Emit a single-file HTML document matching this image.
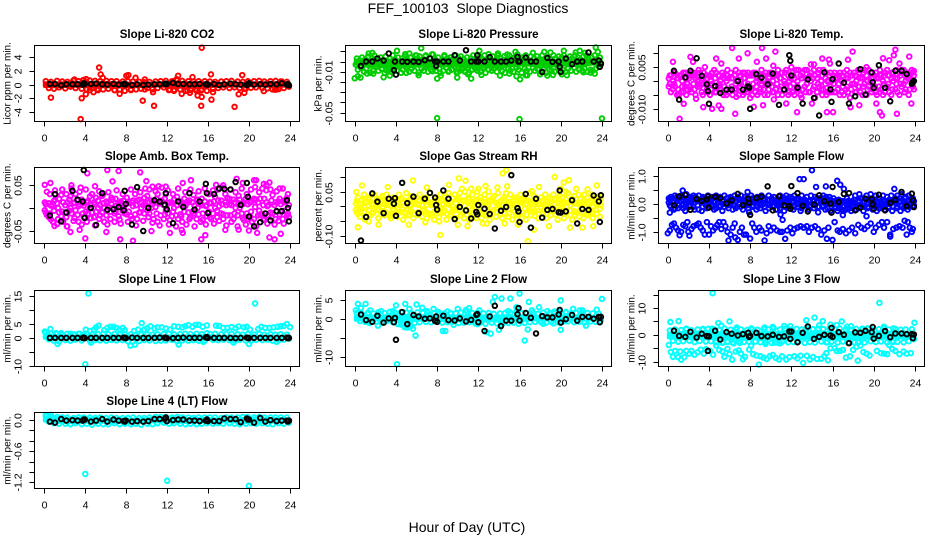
<!DOCTYPE html>
<html lang="en">
<head>
<meta charset="utf-8">
<title>FEF_100103 Slope Diagnostics</title>
<style>
html,body{margin:0;padding:0;background:#fff;}
svg{display:block;font-family:"Liberation Sans",sans-serif;}
</style>
</head>
<body>
<svg id="chart" width="936" height="540" viewBox="0 0 936 540" xmlns="http://www.w3.org/2000/svg">
<rect x="0" y="0" width="936" height="540" fill="#fff"/>
<text x="468" y="13" text-anchor="middle" font-size="14" xml:space="preserve">FEF_100103  Slope Diagnostics</text>
<text x="467" y="532" text-anchor="middle" font-size="14">Hour of Day (UTC)</text>
</svg>
<script>
const xTicks=[0,4,8,12,16,20,24];
const hours=[
0.1,0.2,0.3,0.5,0.6,0.7,0.9,1.0,1.1,1.3,1.4,1.5,1.7,1.8,1.9,
2.1,2.2,2.3,2.5,2.6,2.7,2.9,3.0,3.1,3.3,3.4,3.5,3.7,3.8,3.9,
4.1,4.2,4.3,4.5,4.6,4.7,4.9,5.0,5.1,5.3,5.4,5.5,5.7,5.8,5.9,
6.1,6.2,6.3,6.5,6.6,6.7,6.9,7.0,7.1,7.3,7.4,7.5,7.7,7.8,7.9,
8.1,8.2,8.3,8.5,8.6,8.7,8.9,9.0,9.1,9.3,9.4,9.5,9.7,9.8,9.9,
10.1,10.2,10.3,10.5,10.6,10.7,10.9,11.0,11.1,11.3,11.4,11.5,11.7,11.8,11.9,
12.1,12.2,12.3,12.5,12.6,12.7,12.9,13.0,13.1,13.3,13.4,13.5,13.7,13.8,13.9,
14.1,14.2,14.3,14.5,14.6,14.7,14.9,15.0,15.1,15.3,15.4,15.5,15.7,15.8,15.9,
16.1,16.2,16.3,16.5,16.6,16.7,16.9,17.0,17.1,17.3,17.4,17.5,17.7,17.8,17.9,
18.1,18.2,18.3,18.5,18.6,18.7,18.9,19.0,19.1,19.3,19.4,19.5,19.7,19.8,19.9,
20.1,20.2,20.3,20.5,20.6,20.7,20.9,21.0,21.1,21.3,21.4,21.5,21.7,21.8,21.9,
22.1,22.2,22.3,22.5,22.6,22.7,22.9,23.0,23.1,23.3,23.4,23.5,23.7,23.8,23.9];
const fringeHours=[
0.2,0.5,0.7,1.0,1.3,1.5,1.8,2.1,2.3,2.6,2.9,3.1,3.4,3.7,3.9,
4.2,4.5,4.7,5.0,5.3,5.5,5.8,6.1,6.3,6.6,6.9,7.1,7.4,7.7,7.9,
8.2,8.5,8.7,9.0,9.3,9.5,9.8,10.1,10.3,10.6,10.9,11.1,11.4,11.7,11.9,
12.2,12.5,12.7,13.0,13.3,13.5,13.8,14.1,14.3,14.6,14.9,15.1,15.4,15.7,15.9,
16.2,16.5,16.7,17.0,17.3,17.5,17.8,18.1,18.3,18.6,18.9,19.1,19.4,19.7,19.9,
20.2,20.5,20.7,21.0,21.3,21.5,21.8,22.1,22.3,22.6,22.9,23.1,23.4,23.7,23.9];
const blackHours=[0.6,1.1,1.7,2.2,2.8,3.3,3.8,3.9,4.0,4.6,5.1,5.7,6.2,6.8,7.3,7.8,7.9,8.0,8.6,9.1,9.7,10.2,10.8,11.3,11.8,11.9,12.0,12.6,13.1,13.6,14.2,14.7,15.2,15.8,15.9,16.0,16.6,17.1,17.6,18.2,18.7,19.2,19.8,19.9,20.0,20.5,21.1,21.6,22.1,22.7,23.2,23.7,23.8,23.9];
const bandHours=[0.1,1,2,3,4,5,6,7,8,9,10,11,12,13,14,15,16,17,18,19,20,21,22,23,23.9];

const co2Black=[.1,.1,-.1,.05,.05,.05,0,.2,.1,.1,.15,.05,0,.1,0,.1,.05,.05,-.05,.05,-.05,0,.05,.05,.1,.15,.1,.25,.1,.1,.05,.05,.1,.05,.1,0,.1,-.05,.05,.15,.05,0,-.05,.05,.2,0,.05,0,.1,.05,.2,0,.1,-.1];
const co2BandHigh=[.2,.15,.2,.25,.15,.2,.25,.2,.15,.1,.1,.15,.2,.2,.2,.2,.15,.1,.15,.15,.15,.2,.2,.15,.15];
const co2BandLow=[-.2,-.25,-.2,-.15,-.2,-.25,-.2,-.3,-.25,-.2,-.15,-.1,-.2,-.3,-.3,-.3,-.2,-.15,-.15,-.1,-.1,-.1,-.15,-.2,-.1];
const co2Fringe=[
.5,-.5,.4,-.6,.55,-.4,.45,-.55,.4,-.3,.6,-.5,.5,-.6,.7,
-.7,.6,-.5,.55,-.8,.5,-.7,.55,-.6,.5,-.8,.5,-.7,.45,-.9,
.5,-.8,.45,-.7,.4,-.6,.35,-.5,.4,-.7,.45,-.5,.5,-.4,.55,
-.8,.5,-.9,.6,-.7,.55,-.9,.5,-.8,.45,-.9,.5,-.7,.5,-.9,
.45,-.6,.4,-.5,.45,-.4,.5,-.5,.55,-.4,.45,-.5,.4,-.6,.5,
-.45,.5,-.4,.55,-.5,.45,-.55,.5,-.7,.55,-.65,.45,-.5,.4,-.3];
const co2Outliers=[[15.4,5.4],[5.4,2.5],[5.55,1.5],[5.75,1],[4.15,.8],[8.05,1.3],[8.25,1.4],[8.95,1],[9.85,.75],[13.1,1.3],[12.95,.8],[14.5,1.1],[16.3,1.5],[19.35,1.4],[3,.75],[3.8,.6],[.7,-1.9],[3.7,-2],[4.1,-1.4],[3.6,-5.05],[4.85,-1.1],[7.4,-1.35],[9.65,-2.35],[9.85,-.7],[10.65,-1.1],[10.75,-3.1],[13.45,-1.35],[14.25,-1.2],[15,-1.6],[15.4,-1.8],[15.35,-3.1],[15.35,-.85],[16.35,-2.2],[16.5,-1.1],[18.6,-3.25],[19,-1.4],[19.55,-1.2],[19.55,-.6],[21.45,-.95],[22.55,-.75],[12.3,-.75],[12.7,-.75],[4.5,-.8],[5.2,-.7],[6.9,-.8],[8.5,-.7],[14,-.9],[14.8,-.7],[2.9,.6],[22.7,-.7],[23.2,.45]];

const pressureBlack=[-.0043,0,0,.003,.001,.0079,-.0085,0,-.0128,0,-.0003,0,-.0003,.0013,.003,0,-.0043,0,0,0,.0062,.001,.0111,0,0,.0062,0,0,.0043,0,0,0,.001,.0046,0,0,.0039,0,0,-.0102,.0036,-.0003,0,-.0052,-.0102,.003,-.0026,0,0,.0089,0,.001,-.0052,-.002];
const pressureBandHigh=[.001,.0012,.0015,.001,.001,.0012,.001,.001,.0005,.001,.0005,.001,.001,.0015,.001,.001,.001,.0005,.001,.0005,.001,.001,.0015,.001,.0005];
const pressureBandLow=[-.002,-.004,-.004,-.005,-.004,-.005,-.004,-.004,-.003,-.004,-.004,-.005,-.005,-.005,-.005,-.004,-.003,-.003,-.005,-.004,-.003,-.003,-.004,-.002,-.002];
const pressureFringe=[
-.003,.003,-.008,.001,-.006,.004,-.01,.002,-.007,.005,-.004,-.011,.003,-.009,.006,
-.005,.002,-.009,.004,-.007,.001,-.011,.005,-.003,-.008,.003,-.01,.006,-.006,.002,
-.009,.004,-.005,-.011,.003,-.008,.005,-.006,.002,-.01,.004,-.007,.001,-.009,.006,
.003,-.011,.005,-.007,.002,-.009,.006,-.004,-.01,.003,-.008,.007,-.006,.002,-.009,
.004,-.007,-.011,.001,-.009,.005,-.006,.003,-.01,.004,-.008,.002,-.005,.006,-.011,
.003,-.009,.005,-.007,.002,-.01,.004,-.006,-.011,.003,-.008,.006,-.007,.002,-.009,
.005,-.01,.003,-.006,.006,-.011,.002,-.008,.004,-.009,.005,-.007,.001,-.01,.006,
-.006,.003,-.009,.005,-.011,.002,-.007,.006,-.009,.003,-.01,.004,-.006,.007,-.008,
.002,-.011,.004,-.007,.006,-.009,.001,-.01,.005,-.006,.003,-.009,.005,-.008,.002,
-.01,.006,-.007,.003,-.011,.004,-.008,.002,-.009,.006,-.01,.003,-.006,.005,-.009,
.004,-.008,.006,-.01,.002,-.007,.005,-.009,.003,-.006,.006,-.01,.004,-.008,.002,
-.009,.005,-.007,.006,-.01,.003,-.008,.004,-.009,.006,-.007,.002,-.005,.004,-.003];
const pressureOutliers=[[6.45,.0131],[4.1,.0105],[1.7,.0085],[1.35,.0079],[4.9,.0072],[5.3,.0079],[6,.0059],[7.6,.0069],[6.85,.0052],[8.7,.0062],[12.1,.0105],[13,.0072],[13.9,.0079],[14.8,.0069],[15.6,.0095],[17.3,.0085],[18.4,.0095],[19,.0089],[20.3,.0105],[21.45,.0089],[21.85,.0105],[22.35,.0085],[23.4,.0138],[23.6,.0095],[0,-.0164],[.3,-.0144],[.55,-.0157],[1.2,-.0118],[1.8,-.0118],[2.8,-.0154],[3.4,-.0138],[3.05,-.0085],[5,-.0111],[6.2,-.0134],[7.55,-.0095],[8,-.0167],[8.35,-.0138],[9.15,-.0092],[9.95,-.0157],[10,-.0102],[10.65,-.0092],[11.3,-.0167],[11,-.0125],[12.3,-.0131],[14.1,-.0138],[15,-.0118],[15.7,-.0144],[16.05,-.0174],[16.6,-.0134],[16.75,-.0134],[18,-.0125],[18.7,-.0138],[19.25,-.0131],[20.6,-.0134],[20.1,-.0125],[22.2,-.0105],[22.9,-.0108],[23.3,-.0118],[8,-.0554],[16,-.0564],[24,-.0557]];

const tempValues=[
.001,-.001,.002,-.003,.003,-.002,-.005,.001,.002,-.004,.0,.003,-.002,-.005,-.001,
.001,-.003,.003,-.001,.002,-.005,.0,.004,-.002,-.004,.001,.003,-.001,-.003,.002,
-.005,.0,.003,-.002,.001,-.004,.002,-.001,-.003,.003,-.005,.001,.0,.002,-.004,
.003,-.002,.001,-.003,.004,.0,-.005,.002,-.001,.003,-.004,.001,-.002,.003,-.003,
.002,-.005,-.001,.003,-.002,.001,-.004,.0,.004,-.003,.002,-.001,-.005,.001,.003,
-.002,.0,-.004,.002,-.001,.004,-.003,.001,-.005,.0,.003,-.002,.002,-.004,.001,
.003,-.001,-.005,.004,.0,-.003,.002,-.006,.003,-.002,.001,.004,-.004,.002,.0,
-.003,.004,-.006,.001,.003,-.002,.0,-.005,.004,-.001,.003,-.004,.002,-.002,.0,
-.001,.003,-.004,.001,.002,-.005,.0,-.002,.003,-.003,.004,.001,-.006,.002,-.001,
.003,-.004,.0,.004,-.002,.001,-.005,.003,-.001,.002,-.003,.004,.0,-.004,.001,
-.002,.003,-.005,.001,.004,-.003,.0,.002,-.004,.004,-.001,.002,-.005,.003,.0,
-.003,.004,.001,-.005,.002,-.002,.004,-.004,.0,.003,-.005,.001,.004,-.002,.002];
const tempValues2=[
-.002,.002,-.004,.0,-.001,.003,.001,-.003,-.005,.002,-.002,-.004,.003,.001,-.003,
-.002,.002,-.004,.003,-.003,.001,-.002,-.001,.003,.001,-.005,-.001,.002,.001,-.004,
.002,-.003,-.001,.004,-.004,.003,-.002,.002,.0,-.004,.002,-.002,-.005,.004,.001,
-.003,.001,-.005,.002,-.001,-.003,.003,-.002,.0,-.005,.001,.003,-.004,-.001,.002,
-.003,.002,.003,-.004,.0,-.005,.002,-.003,-.001,.002,-.005,.003,.0,-.003,-.001,
.003,-.004,.002,-.003,.002,-.005,.001,-.002,.003,-.003,-.001,.004,-.005,.0,-.002,
-.004,.002,.001,-.003,-.002,.004,-.005,.001,-.003,.004,-.004,-.001,.001,-.004,.003,
.001,-.002,.002,-.004,-.001,.004,-.003,.002,-.003,.001,-.005,.0,-.004,.003,-.004,
.002,-.004,.001,-.003,-.001,.003,-.004,.002,-.005,.001,-.002,-.004,.003,-.003,.002,
-.001,.002,-.004,-.002,.003,-.004,.001,-.002,.004,-.005,.0,-.002,.003,.001,-.003,
.002,-.004,.001,-.002,-.004,.002,-.005,-.001,.003,-.002,.002,-.004,.001,-.003,.003,
.001,-.001,-.004,.003,-.001,.004,-.001,.002,-.003,.001,.002,-.003,.0,.003,-.003];
const tempBlack=[.0037,-.0067,.0013,.0037,.0082,.0019,-.0012,-.0036,-.0082,-.0018,-.0043,-.0031,-.0031,0,-.0031,-.0019,-.0024,-.01,.0025,.0012,-.0012,.0027,-.0086,-.0031,.0093,.0073,.002,-.0024,-.0081,.0006,-.0061,-.0124,.0031,-.003,-.0075,.0007,.0063,-.0006,-.0081,-.0055,.0043,-.0049,.0031,-.0004,-.0025,.0057,-.0024,-.0073,.0037,.0037,.0025,-.001,-.0004,0];
const tempOutliers=[[6.25,.0119],[9.15,.0119],[10.45,.0106],[7.75,.01],[6.9,.0081],[.5,.0069],[2.2,.0087],[2.45,.0069],[4.7,.0081],[5.2,.0063],[9.55,.0081],[8.65,.0069],[10.25,.0055],[15,.0081],[15.65,.0077],[15.75,.0063],[17.5,.0077],[17.95,.0106],[21.95,.0093],[22.1,.0113],[23.45,.0088],[21.5,.0075],[20.9,.0082],[22.5,.0063],[23.9,.0036],[1.15,-.0136],[6.55,-.0118],[4.3,-.01],[5.2,-.01],[4.95,-.0088],[3.45,-.0094],[1.55,-.0082],[8.35,-.0093],[9.25,-.0087],[8,-.0061],[11.5,-.0081],[12.55,-.0112],[14,-.0081],[15.45,-.0112],[16.05,-.0112],[17.75,-.0094],[18.6,-.0087],[20.25,-.0081],[20.6,-.0112],[20.8,-.0124],[22.25,-.0118],[23.65,-.0081],[2.75,-.0064],[6.65,-.0057],[10.3,-.0066],[12,.005],[13.9,.006],[14.2,.006],[19.3,.005],[3.6,.005]];

const ambValues=[
.012,-.01,.035,-.02,.03,.005,-.03,.015,.038,-.035,.0,.02,-.018,.04,-.03,
-.01,.03,-.04,.018,.0,.042,-.028,.012,.03,-.015,.004,.035,-.036,.01,-.02,
.04,-.03,.015,.0,-.022,.03,.012,-.038,.022,.0,.036,-.016,.026,.01,-.03,
.014,-.036,.034,-.008,.022,.0,-.03,.02,.038,-.018,.008,-.034,.03,.0,-.012,
.022,-.03,.014,.04,-.024,.004,.03,-.038,.016,-.01,.034,.0,-.028,.022,.042,
.026,-.02,.04,.0,-.032,.014,.036,-.012,.03,-.038,.01,.044,-.024,.02,-.006,
.038,-.036,.012,-.018,.03,.0,-.04,.024,.042,-.014,.006,-.03,.02,.034,-.036,
.012,-.024,.04,-.008,.028,-.04,.016,.0,.036,-.03,.02,-.012,.042,-.036,.006,
.03,-.02,.01,.038,-.034,.024,-.006,.04,-.028,.016,.044,-.014,.03,-.038,.022,
.008,.04,-.03,.018,-.012,.034,-.04,.026,.0,.042,-.022,.012,-.036,.03,.008,
-.018,.04,-.03,.02,.045,-.04,.012,.034,-.014,.042,-.026,.02,.038,-.034,.006,
.04,-.02,.028,-.036,.012,.036,-.028,.02,-.008,.042,-.034,.016,-.016,.03,-.02];
const ambValues2=[
-.005,.008,-.015,.01,-.012,-.025,.006,-.006,.018,.01,-.024,-.01,.028,-.008,.012,
.006,-.02,.012,-.006,.025,-.012,.01,-.022,-.005,.016,-.03,.008,.018,-.012,.005,
-.008,.012,-.012,.025,.006,-.01,-.02,.008,-.008,.016,-.024,.006,-.01,.03,.0,
-.016,.01,.002,-.024,.008,.018,-.012,-.008,.005,.012,-.025,.014,-.006,.016,.008,
-.014,.01,-.008,-.018,.012,.016,-.014,.006,-.024,.018,-.01,.012,.006,-.012,.01,
-.006,.012,-.012,.016,.008,-.024,.002,.02,-.03,.01,-.016,.016,.006,-.014,.03,
-.012,.01,-.026,.012,-.008,.018,-.016,.006,-.024,.014,-.018,.012,-.008,.004,.012,
-.01,.016,-.02,.012,-.012,.005,-.024,.018,-.014,.01,.006,-.026,.014,.004,-.018,
-.008,.012,-.024,-.012,.014,.0,-.02,.016,.004,-.012,.008,-.024,.012,.006,-.016,
.02,-.016,.006,-.024,.012,.0,-.016,.01,.018,-.012,.008,-.026,.02,-.012,-.024,
.012,-.008,.014,-.024,.002,.018,-.016,-.006,.02,-.014,.006,-.024,.012,.004,-.016,
-.01,.016,-.012,.006,-.024,-.008,.014,-.014,.008,-.024,.012,-.006,.022,-.012,.006];
const ambBlack=[-.0165,.03,-.029,-.01,.037,.018,.014,.082,-.0216,0,-.037,.032,-.004,-.003,.002,-.005,.037,.0086,-.036,.045,-.05,0,.0165,.0137,.007,.032,-.003,-.033,.014,.002,.032,-.0036,.014,.052,.032,-.011,.03,.042,.041,.04,.056,.0065,.054,.024,-.0187,-.04,-.031,-.012,-.027,-.007,-.007,.0165,0,-.029];
const ambOutliers=[[6.2,.082],[7.3,.08],[9.4,.077],[4.25,.075],[6.7,.0575],[.65,.054],[.1,.05],[2.7,.049],[10,.058],[14.35,.06],[13.55,.054],[18.8,.063],[20.5,.06],[22,.055],[21.45,.052],[4.05,-.066],[7.45,-.068],[8.7,-.071],[15.35,-.068],[22,-.064],[22.5,-.068],[2.6,-.052],[6.1,-.052],[12.3,-.054],[13.55,-.054],[13.45,-.0475],[15.75,-.059],[10.5,-.05],[17.7,-.0475],[19,-.047],[20,-.049],[20.8,-.054],[23.1,-.056],[3.5,-.0475],[1.05,-.039],[2.25,-.04],[3.6,.044],[5,.047],[10.6,.046],[11.2,.047],[11.9,.046],[16.8,.05],[17.5,.049],[19.4,.054],[20.7,.06],[21.7,.05],[23,.042]];

const rhValues=[
.01,-.02,.03,-.035,.02,-.01,.04,-.045,.015,.0,.03,-.03,.01,-.02,.04,
.0,.025,-.04,.015,-.015,.035,-.03,.005,.04,-.025,.015,-.04,.03,-.01,.02,
-.035,.01,.04,-.02,.025,-.045,.0,.045,-.03,.02,-.01,.035,-.04,.01,.03,
-.02,.005,.04,-.035,.02,-.01,.03,-.04,.015,.045,-.025,.01,-.045,.03,-.005,
.02,-.035,.04,.005,-.02,.03,-.045,.01,.045,-.03,.015,-.01,.04,-.04,.025,
.0,.045,-.03,.02,-.04,.05,-.015,.03,-.045,.01,.04,-.025,.02,-.04,.05,
-.01,.03,-.04,.015,.04,-.03,.0,.05,-.045,.02,-.015,.035,-.035,.01,.045,
-.025,.02,-.04,.03,-.01,.045,-.035,.015,.04,-.045,.005,.03,-.03,.02,-.015,
.04,-.04,.01,.03,-.045,.02,-.005,.045,-.03,.015,.035,-.015,.025,-.04,.01,
.03,-.025,.02,.04,-.04,.005,.03,-.03,.015,.04,-.015,.025,-.045,.01,.035,
-.02,.03,-.04,.05,.0,.045,-.03,.02,-.045,.035,.01,-.02,.04,-.035,.025,
.005,-.04,.04,-.015,.03,-.03,.02,.04,-.04,.01,.03,-.025,.015,-.035,.025];
const rhValues2=[
-.012,.018,-.026,.006,-.004,.022,-.018,.012,-.036,.024,-.012,.016,-.024,.006,-.008,
.02,-.01,.008,-.028,.03,-.006,.016,-.02,.012,.004,-.032,.022,-.012,.014,-.024,
.012,-.02,.004,.028,-.01,.014,-.024,.018,-.008,-.03,.026,-.016,.008,-.026,.014,
.008,-.028,.02,.004,-.014,.026,-.018,.006,-.024,.012,.004,-.032,.018,-.016,.022,
-.012,.014,-.024,.024,.008,-.014,.018,-.026,.006,.012,-.02,.028,-.014,.01,-.006,
.024,-.014,.012,-.024,.018,.004,-.03,.012,.024,-.012,-.008,.014,-.03,.022,.006,
.02,-.018,.006,-.024,.024,.01,-.018,.006,.02,-.026,.028,-.012,.012,-.02,.004,
.014,-.01,.006,-.022,.022,.0,.014,-.024,.012,-.006,.022,-.016,.008,.03,-.03,
.014,-.018,.026,-.008,.008,-.028,.02,-.012,.012,-.02,.006,-.032,.008,.018,-.026,
-.006,.014,-.012,.006,.016,-.024,.012,-.014,.026,-.006,.008,-.028,.014,.024,-.012,
.008,-.014,.014,.024,-.022,.012,.004,-.014,.026,-.016,-.03,.012,.008,-.016,.004,
-.02,.018,.01,-.028,.012,.006,-.012,.014,-.018,.024,-.012,.006,.034,-.008,.004];
const rhBlack=[-.116,-.036,.044,.016,-.023,.026,.009,.028,-.032,.08,.011,.033,-.023,.026,.046,.03,.0045,-.011,.054,.026,-.043,-.002,-.0136,-.041,-.019,-.027,.0045,-.008,-.026,-.075,-.015,-.002,.106,-.006,-.017,-.053,.042,-.072,.026,-.038,-.012,-.009,-.02,.054,-.021,-.017,.021,-.058,-.009,-.012,.037,.017,-.053,.038];
const rhOutliers=[[14.7,.123],[14.35,.112],[5.65,.088],[10.1,.095],[10.75,.087],[.7,.071],[3.2,.066],[7,.064],[9.15,.073],[19.4,.1],[20.8,.089],[20.3,.081],[23.5,.071],[17.9,.066],[14.8,.068],[13.85,.064],[12.7,.069],[.15,.049],[.3,-.071],[8.3,-.097],[16.8,-.118],[17.4,-.079],[2.3,-.062],[5.25,-.062],[6.85,-.054],[8.2,-.051],[10,-.062],[10.95,-.067],[12.45,-.058],[12.8,-.058],[14.55,-.058],[15.85,-.062],[18.85,-.067],[20.9,-.072],[22.1,-.072],[23.15,-.067],[1.35,-.051],[10.4,.06],[11.3,.06],[12,.06],[20,.06],[21.5,.06],[22.6,.058],[17.2,.052]];

const flowValues=[
.2,-.05,.25,.05,-.2,.3,.1,-.15,.2,.3,-.05,.15,-.25,.35,.1,
-.1,.25,.05,.3,-.2,.15,-.05,.3,.1,-.25,.25,.05,.2,-.15,.3,
.1,-.05,.25,-.2,.2,.3,.05,-.1,.25,-.25,.15,.3,.0,.2,-.15,
.25,.05,-.2,.3,.1,-.1,.2,.0,.3,-.2,.15,.25,-.05,.1,-.3,
.3,-.1,.2,.05,-.2,.25,.1,-.15,.3,.0,.2,-.25,.15,.3,-.05,
.2,-.1,.25,.05,-.2,.15,.3,-.05,.1,-.25,.2,.3,.0,-.15,.25,
.1,-.2,.3,.05,-.1,.2,-.25,.3,.0,.15,-.05,.25,-.2,.1,.3,
.0,-.15,.25,.1,-.3,.2,.05,-.1,.3,-.2,.15,.0,.25,-.25,.1,
.2,-.15,.05,-.25,.15,-.05,-.2,.1,-.25,.05,.2,-.15,.0,-.25,.1,
-.05,.3,-.2,.1,.35,-.1,.2,-.25,.05,.3,-.15,.15,.35,-.05,-.2,
.1,.3,-.25,.05,.2,-.15,.3,.0,-.2,.25,.1,-.1,.3,-.25,.15,
.2,-.15,.3,.05,-.25,.35,.1,-.1,.25,-.2,.3,.0,.2,-.1,-.05];
const flowValues2=[
.05,.15,-.1,.2,.1,-.15,.25,.0,-.05,.1,.25,-.15,.05,.0,.2,
.15,-.05,.2,-.1,.05,.25,.1,-.2,.15,.05,-.1,.2,-.05,.1,.0,
.2,.15,-.1,.05,.1,-.15,.2,.15,-.05,.1,.0,-.1,.2,-.05,.1,
.0,.2,.1,-.05,-.15,.2,.0,.15,-.1,.05,-.05,.1,.2,-.15,.15,
.05,.2,-.05,.15,.1,-.1,.0,.2,-.05,.15,-.1,.05,.0,-.15,.15,
.05,.15,-.05,-.2,.1,.0,-.15,.15,.2,.05,-.1,.1,.2,.05,-.05,
.2,.05,-.1,.15,.2,.0,.1,-.15,.15,-.05,.1,.05,.1,-.1,-.05,
.15,.1,-.05,.2,.05,-.1,.15,.2,-.05,.05,.25,-.15,.05,.15,-.1,
.0,.1,-.1,.1,-.15,.05,.1,-.1,.05,-.2,-.05,.1,-.15,.05,-.1,
.15,.05,.0,-.15,.1,.2,-.05,.1,-.1,.15,.05,-.1,.1,.15,.05,
-.1,.15,.05,-.15,-.05,.1,.15,-.1,.1,.0,-.15,.15,.1,.05,-.1,
.05,.1,-.1,.2,.1,-.05,-.15,.2,.0,.1,-.1,.15,.05,.2,.1];
const flowBlack=[-.05,.27,.32,-.21,.18,.11,.17,.27,-.13,.26,.21,.02,.13,.36,-.04,.19,.04,-.39,.21,.26,.63,-.23,.27,-.05,-.08,-.17,.64,.39,-.07,-.27,-.02,.31,.1,.01,-.31,.61,.07,.36,.39,-.23,-.13,.19,.18,-.02,-.17,.33,-.23,.04,.15,.43,-.08,.37,.13,-.11];
const flowOutliers=[[14,1.21],[12.8,.89],[13.2,.89],[14.4,.61],[15.35,.63],[16.45,.83],[16.75,.69],[17.1,.54],[22,.54],[1.45,.48],[7.75,.43],[10.95,-.38],[11.15,-.57],[19.3,-.44],[17,-.4],[.2,-.31],[5.9,-1.31],[6.8,-1.29],[9.4,-1.31],[11.4,-1.25],[15.45,-1.25],[16,-1.29],[21.6,-1.17],[8,-1.24],[6.55,-1.2],[1.15,-1.12],[2.1,-1.14],[23.2,-1.1],[0,-1.05],[.2,-.95],[.4,-.75],[.6,-.7],[.8,-.85],[1,-.95],[1.3,-1],[1.5,-.75],[1.7,-.8],[1.9,-.65],[2,-1],[2.3,-.9],[2.5,-.8],[2.8,-.75],[3,-.7],[3.2,-.85],[3.4,-.95],[3.6,-1.1],[3.8,-.65],[4,-1.1],[4.2,-.8],[4.4,-.95],[4.6,-.85],[4.8,-.75],[5,-.65],[5.2,-.9],[5.4,-.65],[5.6,-.8],[5.8,-1],[6.1,-1.1],[6.3,-.85],[6.5,-.7],[7,-1],[7.2,-.85],[7.4,-1.1],[7.6,-1.1],[8.2,-.7],[8.4,-.85],[8.6,-1],[8.9,-.85],[9.1,-.95],[9.6,-1.05],[9.8,-.8],[10,-.95],[10.3,-.85],[10.6,-.95],[10.9,-1],[11.1,-1],[11.6,-.95],[11.9,-.85],[12.1,-1.05],[12.3,-.9],[12.6,-.85],[12.9,-.8],[13.2,-.85],[13.5,-.8],[13.7,-1],[14,-.85],[14.3,-.8],[14.6,-.9],[14.9,-1.1],[15.2,-.95],[15.6,-.85],[16.2,-.65],[16.5,-.95],[16.7,-1],[17,-.9],[17.3,-1.05],[17.6,-.95],[17.9,-.85],[18.2,-1.05],[18.5,-.75],[18.8,-.85],[19.1,-.9],[19.4,-.8],[19.7,-.7],[20,-1],[20.2,-.85],[20.5,-.75],[20.8,-.65],[21,-.85],[21.3,-.65],[21.6,-1.1],[21.9,-.9],[22.2,-.85],[22.5,-.8],[22.8,-.85],[23,-.6],[23.3,-.65],[23.5,-.85],[23.7,-1],[23.8,-.9]];

const line1Black=[0,0,0,0,0,0,0,.1,-.1,0,0,0,0,0,0,.1,.1,-.1,.1,0,0,0,0,.1,.1,0,-.1,-.1,0,.1,0,0,0,.2,.3,0,0,0,0,0,-.1,0,.1,0,-.1,0,0,0,0,0,0,.1,-.1,0];
const line1BandHigh=[1.2,.7,.5,.5,.7,.5,.4,.5,.4,.4,.4,.4,.5,.5,.5,.6,.6,.4,.4,.4,.5,.4,.4,.4,.3];
const line1BandLow=[0,-.2,-.2,-.2,-.1,-.1,-.2,-.1,-.4,-.3,-.1,-.2,-.2,-.3,-.2,-.1,0,0,-.2,-.1,-.1,0,-.1,0,0];
const line1Fringe=[
1.8,-.5,1.5,-1,1.4,-1.3,1.2,-.8,1.5,-1,1.3,-.6,1.5,-.9,1.2,
1.5,-1,1.2,-.8,1.4,-.9,1.5,-1,1.3,-.7,1.4,-.9,1.2,-.8,1.4,
-1.2,1.3,-1.3,1,-1.1,1.2,-.8,1.3,-.9,1.2,-1.1,1.3,-1,1.4,-.9,
1.5,-.7,1.3,-1.2,1.4,-.9,1.5,-1,1.4,-.8,1.5,-1,1.3,-1,1.7,
1.4,-.7,1.5,-.8,1.3,-.6,1.4,-.8,1.5,-1,1.3,-.7,1.2,-.9,1.4,
-1,1.2,-.7,1.4,-.8,1.2,-.6,1.3,-1,1.2,-.8,1.3,-.6,1.2,-.3];
const line1Outliers=[[4.35,16],[20.6,12.4],[4.05,-9.5],[.1,2.3],[.65,3.2],[5.35,4.4],[9.55,5.3],[23.7,5],[8.45,-2.8],[8.9,-2.4],[20,-2.2],[1.35,-2.2],[4.6,-1.7],[13.15,-2.4],[18.5,-1.7],[15.55,-1.4],[22.7,-1.4],[4.1,3],[4.5,2.5],[4.9,3],[5.1,3.8],[5.9,2.8],[6.2,3.6],[6.5,4],[6.8,4],[7.1,3.6],[7.4,3],[7.7,3.6],[7.9,2.8],[8.8,2.5],[9.2,3],[9.8,3],[10.1,3.5],[10.4,4.2],[10.8,3.4],[11.1,3.8],[11.5,3.8],[11.9,3.4],[12.3,3],[12.7,4.2],[13.1,4],[13.5,3.8],[13.8,4.2],[14.1,4.6],[14.5,4],[14.8,4.7],[15.1,4.7],[15.5,4],[15.9,4.5],[16.8,4.4],[17.1,4.3],[17.5,3.6],[17.9,3.6],[18.3,3.9],[18.7,3.5],[19,4.1],[19.5,3.8],[19.8,4],[20.1,3],[20.9,3.2],[21.2,4],[21.6,3.6],[22,3.6],[22.4,3.8],[22.8,4],[23.1,4.2],[23.4,4.3],[24,3.9],[1.2,1.7],[1.7,1.7],[2.6,1.5],[3.5,1.5]];

const line2Black=[1.1,-.35,-.8,.8,-1,.1,-.9,.2,-5.5,1.75,-1.4,1,.6,0,.1,-.6,.6,-.8,.8,-.35,-.45,.1,-.7,-.3,1,1.2,-.9,-3.2,.6,3.4,-1.9,-.5,-.5,1.2,2.8,-.45,1.5,.25,-3.85,.7,.35,.35,1.1,2.3,-1,-.1,1,-.5,.5,.5,0,.5,-.9,.5];
const line2BandHigh=[.6,.5,.6,.4,.6,.6,.5,.5,.5,.4,.5,.6,.6,.6,.5,.5,.5,.4,.5,.5,.6,.6,.5,.4,.4];
const line2BandLow=[-.3,-.1,-.2,-.3,-.3,-.5,-.3,-.2,-.3,-.4,-.4,-.4,-.4,-.3,-.5,-.4,-.4,-.2,-.2,-.1,-.3,-.2,-.2,-.2,0];
const line2Fringe=[
1.5,-.6,1.3,-.8,1.6,-.7,1.4,-.8,1.7,-1,1.5,-.6,1.8,-.9,1.6,
-1.4,1.7,-1.2,1.6,-1.6,1.4,-1.1,1.7,-.9,1.5,-.8,1.6,-.9,1.4,-.7,
1.3,-1,1.4,-.9,1.5,-.8,1.4,-1.1,1.6,-1,1.8,-.9,1.5,-1.2,1.6,
-1,1.4,-1.3,1.5,-1,1.3,-1.2,1.4,-1.4,1.5,-1.1,1.6,-1,1.8,-1.3,
1.5,-1.1,1.4,-.9,1.6,-.8,1.3,-.9,1.6,-1,1.5,-.8,1.4,-.9,1.7,
-.8,1.6,-.7,1.4,-.9,1.5,-.8,1.6,-1,1.5,-.7,1.4,-.8,1.3,-.4];
const line2Outliers=[[4.1,-11.9],[16,6.6],[24,5.2],[13.6,5.7],[14.25,5.3],[15.1,5.3],[13.4,4.4],[20,4.8],[.3,3.9],[1.05,3.9],[4.9,3.9],[6,3.75],[6.55,2.9],[4,3.5],[16.9,4.4],[17.9,3],[5.9,-4.4],[8.55,-3.2],[8.8,-3.2],[16.5,-5.7],[16.8,-2.8],[20,-2.9],[13.2,-3.9],[12.8,-3.5],[14,-2.9],[22.45,-1.8],[2.25,-1.8],[5.65,-2.6],[4.85,-2.2],[9.6,-1.6],[1.4,-1.1],[21.85,2.2],[23.5,2.4],[21.2,2.6],[11.1,2.8],[10,2.6],[7.65,2.6],[2.55,2],[15.7,3],[.1,2.2],[.6,2.8],[1.5,2.2],[3.7,2],[5.3,2.6],[7,2],[8.1,1.8],[9,1.9],[10.8,2.3],[12.1,2.2],[14.9,2],[17.2,2.2],[18.7,2],[19.4,1.9],[20.5,1.8],[22.1,2.2],[5.1,-2.3],[5.4,-2],[4.5,-1.5],[11.9,-1.4],[19.3,-1.2],[18.3,-1.3]];

const line3Black=[1.5,-.4,-.75,1.1,-1,.4,-.5,-6,-.6,1.5,-1.75,1,.4,-.25,.25,.75,-.75,-.4,.75,-.5,-.6,0,-.75,-.6,1.25,-1.5,1.2,-2.75,.75,3.1,-1.5,-.75,0,-.25,2.6,-.75,1,0,-3.1,.9,.75,1.5,1,2.9,-1.4,-.4,1.4,-.9,.5,.5,.25,.25,-1.25,.1];
const line3BandHigh=[.3,.6,.5,.7,.7,.6,.6,.7,.6,.5,.5,.7,.7,.6,.6,.6,.7,.6,.5,.6,.6,.6,.5,.4,.4];
const line3BandLow=[-1,-1.1,-1.1,-1,-1.1,-1.3,-1.2,-1.1,-1.2,-1.2,-1.3,-1.3,-1.2,-1.2,-1.1,-1.2,-1.3,-1.2,-1.2,-1.1,-1.1,-1.1,-1,-1,-.7];
const line3Fringe=[
1.6,-2.2,2,-2.6,1.8,-2.4,2.1,-2.2,1.7,-2.7,2,-2.3,1.9,-2.5,2.2,
-2.4,2,-2.8,1.8,-3,2.3,-2.6,1.9,-2.9,2.1,-2.4,2,-2.7,1.8,-2.6,
2.1,-2.5,1.9,-2.8,2.2,-2.7,2,-3,2.4,-2.9,2,-2.6,2.3,-2.8,2,
-2.7,2.2,-2.5,2,-3,2.4,-2.7,2.1,-2.9,2.3,-2.5,2.1,-2.8,2.4,-2.6,
2,-2.9,2.3,-2.5,2.1,-3,1.9,-2.8,2.2,-2.6,1.9,-2.9,2.2,-2.4,2,
-2.7,2.1,-2.5,2.3,-2.9,2,-2.4,2.2,-2.6,1.9,-2.8,2,-2.4,2.1,-1.6];
const line3Outliers=[[4.35,15.5],[20.55,11.9],[8.85,-11.1],[13.15,-10.5],[14.25,6.4],[.25,4.75],[1.05,5.1],[6,5],[4.9,4.4],[13.45,5.4],[15.05,5.1],[16.9,5],[23.95,4.5],[18.45,-9.6],[15.55,-9.5],[6.25,-9.25],[1.3,-9.25],[7.3,-9.1],[.1,-3.8],[.3,-6.4],[.5,-8.2],[.7,-6],[1,-8.3],[1.2,-6.2],[1.6,-8.3],[1.8,-6],[2.1,-7],[2.3,-6],[2.6,-7.4],[2.9,-6.5],[3.2,-5.5],[3.5,-7],[3.7,-5.4],[4.1,-6],[4.4,-7.4],[4.7,-4],[5,-5.7],[5.3,-6.2],[5.5,-8.2],[5.8,-5.2],[6,-7.2],[6.6,-6.2],[6.9,-5.8],[7.1,-7],[7.5,-8.2],[7.9,-5.5],[8.1,-4],[8.3,-7.2],[8.6,-7.7],[9,-8],[9.3,-8.5],[9.6,-9],[9.9,-8],[10.2,-7.5],[10.5,-8.6],[10.8,-9.2],[11.1,-8],[11.5,-9.2],[11.8,-8.3],[12.3,-8],[12.6,-8.8],[12.9,-7.8],[13.5,-7.8],[13.8,-9.2],[14.1,-8.3],[14.5,-9],[14.9,-8.9],[15.2,-8],[15.4,-6.8],[15.8,-5],[16.2,-5],[16.4,-6],[16.7,-6],[17,-5.6],[17.3,-8.5],[17.7,-8],[18,-5.6],[18.3,-4.5],[18.7,-4],[19,-6.4],[19.3,-7],[19.6,-7.7],[20.3,-6],[20.7,-6.8],[21,-7],[21.3,-7.2],[21.5,-3.8],[21.8,-5.3],[22.1,-6],[22.5,-7.2],[22.9,-6.2],[23.2,-7],[23.6,-6.8],[5.4,-2.8],[6.4,-3.2],[7,-3],[9.5,-3.4],[10.4,-2.9],[10.9,-3.2],[15.5,-2.8],[18.5,-2.9],[21.9,-2.6],[13.6,3],[14.7,3.5],[15.8,3.8],[16.4,3.6],[17.4,3],[17.8,3.2],[18.9,2.3],[19.4,2.4],[21,3],[21.9,2.4],[10.2,2.9],[11.3,3.3],[11.9,3.2],[9.4,2.7],[8.1,2.4],[6.7,2.7],[5.2,3.4],[3.4,2.2],[4.3,2.3],[1.8,2.3]];

const line4Black=[-.03,-.05,.02,-.01,0,-.01,-.01,.01,.01,-.03,-.01,.02,-.03,.01,-.01,-.02,-.03,-.01,-.03,-.02,-.03,-.02,.02,.02,.02,.05,-.02,0,.01,.01,-.01,-.01,-.02,-.01,.01,-.02,-.02,-.02,.03,.02,.02,-.04,.03,.01,.01,-.05,.04,-.03,0,-.02,-.01,-.01,-.03,-.01];
const line4BandHigh=[.05,.04,.03,.02,.03,.02,.01,.02,.01,.01,.02,.03,.04,.03,.02,.02,.02,.01,.02,.02,.03,.03,.02,.02,.01];
const line4BandLow=[-.01,-.03,-.04,-.04,-.03,-.04,-.03,-.04,-.04,-.03,-.03,-.02,-.03,-.03,-.04,-.03,-.03,-.03,-.02,-.03,-.04,-.03,-.03,-.03,-.02];
const line4Fringe=[
.09,-.03,.1,-.06,.06,-.07,.05,-.07,.05,-.08,.04,-.06,.05,-.08,.05,
-.07,.05,-.09,.04,-.07,.05,-.08,.04,-.08,.05,-.06,.04,-.08,.04,-.07,
.04,-.08,.05,-.07,.04,-.09,.04,-.07,.05,-.08,.06,-.06,.06,-.05,.06,
-.07,.05,-.06,.06,-.07,.05,-.08,.05,-.07,.04,-.08,.05,-.07,.05,-.06,
.05,-.07,.05,-.06,.04,-.07,.05,-.06,.05,-.07,.05,-.08,.06,-.07,.06,
-.06,.05,-.07,.06,-.06,.05,-.07,.05,-.08,.05,-.06,.05,-.07,.05,-.05];
const line4Outliers=[[4.05,-1.04],[12.03,-1.17],[20,-1.27],[.2,.09],[.4,.09],[.7,.06]];

const colLefts=[34.5,345.5,658.5];
const colRights=[299.5,611.5,924.5];
const rowTops=[45.5,167.5,290.5,412.5];
const panelHeight=76;
const xMin=-0.9, xMax=24.93;

const panels=[
{id:'co2',title:'Slope Li-820 CO2',ylab:'Licor ppm per min.',color:'#FF0000',col:0,row:0,yMin:-5.4,yMax:5.73,ticks:[-4,-2,0,2,4],labels:['-4','-2','0','2','4'],fringe:co2Fringe,black:co2Black,outliers:co2Outliers,bandHigh:co2BandHigh,bandLow:co2BandLow},
{id:'pressure',title:'Slope Li-820 Pressure',ylab:'kPa per min.',color:'#00CD00',col:1,row:0,yMin:-.0587,yMax:.0157,ticks:[-.05,-.04,-.03,-.02,-.01,0,.01],labels:['-0.05','','','','-0.01','',''],values:pressureFringe,black:pressureBlack,outliers:pressureOutliers,bandHigh:pressureBandHigh,bandLow:pressureBandLow},
{id:'temp',title:'Slope Li-820 Temp.',ylab:'degrees C per min.',color:'#FF00FF',col:2,row:0,yMin:-.01457,yMax:.0128,ticks:[-.01,-.005,0,.005,.01],labels:['-0.010','','','0.005',''],values:tempValues,values2:tempValues2,black:tempBlack,outliers:tempOutliers},
{id:'amb',title:'Slope Amb. Box Temp.',ylab:'degrees C per min.',color:'#FF00FF',col:0,row:1,yMin:-.077,yMax:.0875,ticks:[-.05,0,.05],labels:['-0.05','','0.05'],values:ambValues,values2:ambValues2,black:ambBlack,outliers:ambOutliers},
{id:'rh',title:'Slope Gas Stream RH',ylab:'percent per min.',color:'#FFFF00',col:1,row:1,yMin:-.126,yMax:.132,ticks:[-.1,-.05,0,.05,.1],labels:['-0.10','','','0.05',''],values:rhValues,values2:rhValues2,black:rhBlack,outliers:rhOutliers},
{id:'sample',title:'Slope Sample Flow',ylab:'ml/min per min.',color:'#0000FF',col:2,row:1,yMin:-1.418,yMax:1.307,ticks:[-1,-.5,0,.5,1],labels:['-1.0','','0.0','','1.0'],values:flowValues,values2:flowValues2,black:flowBlack,outliers:flowOutliers},
{id:'line1',title:'Slope Line 1 Flow',ylab:'ml/min per min.',color:'#00FFFF',col:0,row:2,yMin:-10.3,yMax:17.07,ticks:[-10,-5,0,5,10,15],labels:['-10','','0','5','','15'],fringe:line1Fringe,black:line1Black,outliers:line1Outliers,bandHigh:line1BandHigh,bandLow:line1BandLow},
{id:'line2',title:'Slope Line 2 Flow',ylab:'ml/min per min.',color:'#00FFFF',col:1,row:2,yMin:-12.5,yMax:7.4,ticks:[-10,-5,0,5],labels:['-10','','0','5'],fringe:line2Fringe,black:line2Black,outliers:line2Outliers,bandHigh:line2BandHigh,bandLow:line2BandLow},
{id:'line3',title:'Slope Line 3 Flow',ylab:'ml/min per min.',color:'#00FFFF',col:2,row:2,yMin:-11.8,yMax:16.5,ticks:[-10,-5,0,5,10,15],labels:['-10','','0','','10',''],fringe:line3Fringe,black:line3Black,outliers:line3Outliers,bandHigh:line3BandHigh,bandLow:line3BandLow},
{id:'line4',title:'Slope Line 4 (LT) Flow',ylab:'ml/min per min.',color:'#00FFFF',col:0,row:3,yMin:-1.32,yMax:.146,ticks:[-1.2,-1,-.8,-.6,-.4,-.2,0],labels:['-1.2','','','-0.6','','','0.0'],fringe:line4Fringe,black:line4Black,outliers:line4Outliers,bandHigh:line4BandHigh,bandLow:line4BandLow}
];

const svg=document.getElementById('chart');
const NS='http://www.w3.org/2000/svg';
function mk(tag,attrs,parent){
  const el=document.createElementNS(NS,tag);
  for(const k in attrs){el.setAttribute(k,attrs[k]);}
  parent.appendChild(el);
  return el;
}
function xScale(p,h){
  const l=colLefts[p.col],r=colRights[p.col];
  return l+(h-xMin)/(xMax-xMin)*(r-l);
}
function yScale(p,v){
  const t=rowTops[p.row],b=t+panelHeight;
  return b-(v-p.yMin)/(p.yMax-p.yMin)*(b-t);
}
function drawPoint(g,p,h,v,color){
  const dot=mk('circle',{cx:xScale(p,h).toFixed(2),cy:yScale(p,v).toFixed(2),r:2.3,fill:'none',stroke:color,'stroke-width':1.9},g);
  return dot;
}
panels.forEach(function(p){
  const g=mk('g',{},svg);
  
  
  const left=colLefts[p.col],right=colRights[p.col],top=rowTops[p.row],bottom=top+panelHeight;

  if(p.bandHigh){
    let pts=[];
    bandHours.forEach(function(h,i){pts.push(xScale(p,h).toFixed(1)+','+yScale(p,p.bandHigh[i]).toFixed(1));});
    for(let i=bandHours.length-1;i>=0;i--){pts.push(xScale(p,bandHours[i]).toFixed(1)+','+yScale(p,p.bandLow[i]).toFixed(1));}
    const band=mk('polygon',{points:pts.join(' '),fill:p.color,stroke:p.color,'stroke-width':4,'stroke-linejoin':'round'},g);
    
    
  }
  if(p.values){
    p.values.forEach(function(v,i){
      const dot=drawPoint(g,p,hours[i],v,p.color);
      
      
    });
  }
  if(p.values2){
    p.values2.forEach(function(v,i){
      const dot=drawPoint(g,p,hours[i],v,p.color);
      
      
    });
  }
  if(p.fringe){
    p.fringe.forEach(function(v,i){
      const dot=drawPoint(g,p,fringeHours[i],v,p.color);
      
      
    });
  }
  p.outliers.forEach(function(o){
    const dot=drawPoint(g,p,o[0],o[1],p.color);
    
    
  });
  p.black.forEach(function(v,i){
    const dot=drawPoint(g,p,blackHours[i],v,'#000000');
    
    
  });

  const box=mk('rect',{x:left,y:top,width:right-left,height:panelHeight,fill:'none',stroke:'#000','stroke-width':1},g);
  
  

  xTicks.forEach(function(t){
    const px=Math.round(xScale(p,t))+.5;
    const tick=mk('line',{x1:px,x2:px,y1:bottom,y2:bottom+5,stroke:'#000','stroke-width':1},g);
    
    
    const lab=mk('text',{x:px,y:bottom+20,'text-anchor':'middle','font-size':10.5},g);
    lab.textContent=String(t);
    
    
  });
  p.ticks.forEach(function(t,i){
    const py=Math.round(yScale(p,t))+.5;
    const tick=mk('line',{x1:left-5,x2:left,y1:py,y2:py,stroke:'#000','stroke-width':1},g);
    
    
    if(p.labels[i]){
      const lx=left-13;
      const lab=mk('text',{x:lx,y:py,'text-anchor':'middle','font-size':10.5,transform:'rotate(-90 '+lx+' '+py+')'},g);
      lab.textContent=p.labels[i];
      
      
    }
  });
  const title=mk('text',{x:(left+right)/2,y:top-7.5,'text-anchor':'middle','font-size':11.5,'font-weight':'bold'},g);
  title.textContent=p.title;
  
  
  const yx=left-24,yy=(top+bottom)/2;
  const ylab=mk('text',{x:yx,y:yy,'text-anchor':'middle','font-size':10,transform:'rotate(-90 '+yx+' '+yy+')'},g);
  ylab.textContent=p.ylab;
  
  
});
</script>
</body>
</html>
